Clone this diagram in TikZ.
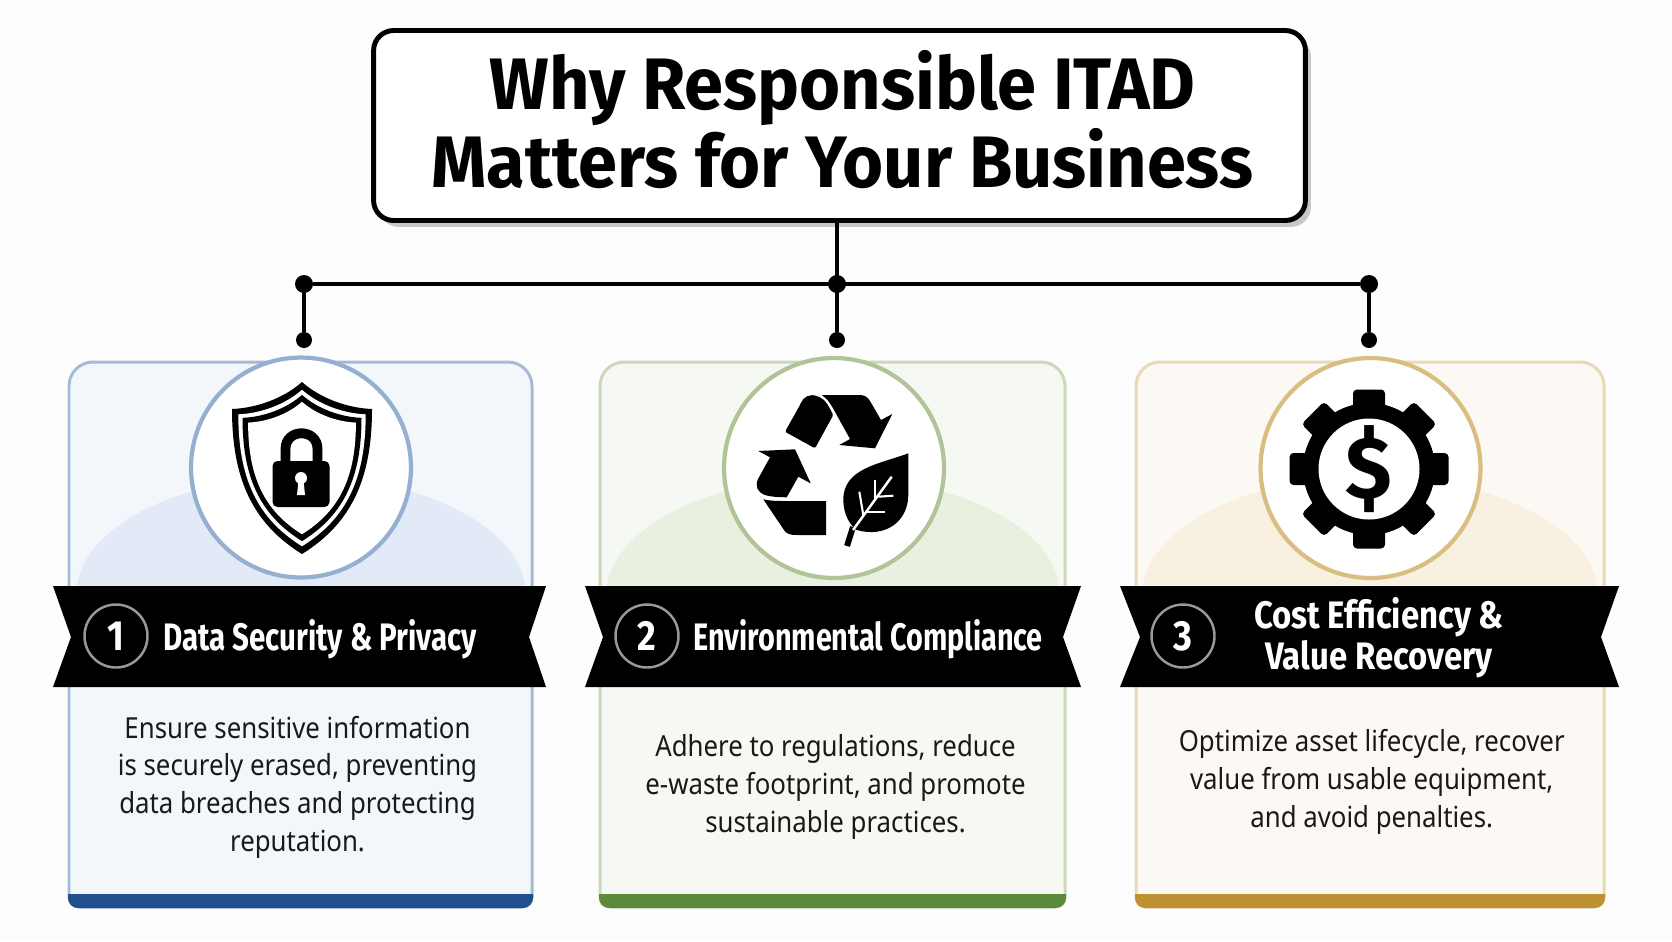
\documentclass[tikz,border=0pt]{standalone}
\usepackage{xcolor}
\usepackage{fontspec}
\usetikzlibrary{positioning,shadows}
\setmainfont{Noto Sans}
\newfontfamily\headfont[FakeStretch=.965]{Fira Sans}
\newfontfamily\bannerfont[FakeStretch=.77]{Fira Sans}
\newfontfamily\bannernarrow[FakeStretch=.752]{Fira Sans}
\newfontfamily\bannerwide[FakeStretch=.86]{Fira Sans}
\newfontfamily\bodyfont[FakeStretch=.89]{Noto Sans}
\definecolor{pageColor}{RGB}{253, 253, 253}
\definecolor{blueFill}{RGB}{243, 247, 252}
\definecolor{blueHill}{RGB}{225, 234, 246}
\definecolor{blueEdge}{RGB}{165, 186, 212}
\definecolor{blueRing}{RGB}{148, 175, 208}
\definecolor{blueBar}{RGB}{31, 79, 140}
\definecolor{greenFill}{RGB}{246, 248, 243}
\definecolor{greenHill}{RGB}{233, 240, 223}
\definecolor{greenEdge}{RGB}{203, 217, 186}
\definecolor{greenRing}{RGB}{176, 196, 151}
\definecolor{greenBar}{RGB}{91, 138, 58}
\definecolor{goldFill}{RGB}{252, 249, 244}
\definecolor{goldHill}{RGB}{248, 240, 224}
\definecolor{goldEdge}{RGB}{232, 218, 184}
\definecolor{goldRing}{RGB}{217, 190, 130}
\definecolor{goldBar}{RGB}{190, 146, 50}

\begin{document}
\begin{tikzpicture}[
		x=0.02cm,
		y=-0.02cm,
		% Define styles for nodes
		titlebox/.style={
				draw=black,
				rectangle,
				minimum width=18.64cm,
				minimum height=3.8cm,
				rounded corners=0.4cm,
				line width=2.8pt,
				fill=white,
				drop shadow={shadow xshift=0.11cm,shadow yshift=-0.13cm,fill=gray!60,opacity=0.7}
			},
		wire/.style={
				line width=2.3pt,
				draw=black
			},
		hubdot/.style={
				circle,
				fill=black,
				inner sep=0pt,
				minimum size=#1
			},
		iconring/.style={
				circle,
				draw=#1,
				line width=2.4pt,
				fill=white,
				minimum size=4.4cm
			},
		numring/.style={
				circle,
				draw=gray!80,
				line width=1.4pt,
				minimum size=1.26cm,
				inner sep=0pt,
				text=white,
				font=\bannerwide\fontsize{24}{24}\selectfont\bfseries
			},
		bannertext/.style={
				text=white,
				inner sep=0pt,
				align=center,
				font=\bannerfont\fontsize{21.8}{23.5}\selectfont\bfseries
			},
		cardtext/.style={
				inner sep=0pt,
				align=center,
				text=black!90,
				font=\bodyfont\fontsize{16.5}{21.45}\selectfont
			},
		cardedge/.style={
				line width=1.7pt
			}
	]

	\useasboundingbox (0,0) rectangle (1672,941);
	\fill[pageColor] (0,0) rectangle (1672,941);

	% Connector coordinates
	\node[hubdot=0.36cm] (hubleft) at (304,284) {};
	\node[hubdot=0.36cm] (hubmid) at (837,284) {};
	\node[hubdot=0.36cm] (hubright) at (1369,284) {};
	\node[hubdot=0.32cm] (footleft) at (304,340) {};
	\node[hubdot=0.32cm] (footmid) at (837,340) {};
	\node[hubdot=0.32cm] (footright) at (1369,340) {};

	% Title
	\node[titlebox] (title) at (839.5,125.5) {};
	\node[font=\headfont\fontsize{41.5}{44.4}\selectfont\bfseries, align=center, inner sep=0pt] (titletext) at (842.5,120) {Why Responsible ITAD\\Matters for Your Business};

	% ARROWS: Connect title to the cards
	\draw[wire] (title.south -| hubmid) -- (footmid);
	\draw[wire] (hubleft) -- (hubright);
	\draw[wire] (hubleft) -- (footleft);
	\draw[wire] (hubright) -- (footright);

	% CARD 1: Data security
	\draw[cardedge, draw=blueEdge, fill=blueFill] (69,600) [rounded corners=0.48cm] -- (69,362) -- (532,362) [rounded corners=0.2cm] -- (532,907) -- (69,907) -- cycle;
	\fill[blueHill] (77,600) -- (77,585) .. controls (86,527) and (176,477) .. (301,477) .. controls (426,477) and (516,527) .. (525,585) -- (525,600) -- cycle;
	\fill[blueBar] (68,894) -- (533,894) [rounded corners=0.2cm] -- (533,908) -- (68,908) [sharp corners] -- cycle;
	\node[iconring=blueRing] (ringone) at (301,467.5) {};

	% Shield with padlock
	\foreach \s/\c in {1/black,0.91/white,0.85/black,0.77/white}
		\fill[\c, shift={(302,468)}, scale=\s] (0,-86) .. controls (-18,-70) and (-45,-60) .. (-70,-59) .. controls (-70,10) and (-50,55) .. (0,86) .. controls (50,55) and (70,10) .. (70,-59) .. controls (45,-60) and (18,-70) .. (0,-86) -- cycle;
	\draw[line width=5.6pt, black] (285.5,465) -- (285.5,449) .. controls (285.5,428) and (317.5,428) .. (317.5,449) -- (317.5,465);
	\fill[black, rounded corners=0.1cm] (272.5,461) rectangle (329.5,507);
	\fill[white] (301,478) circle (6);
	\fill[white] (298.5,480) -- (303.5,480) -- (305,495) -- (297,495) -- cycle;

	\fill[pageColor] (60,586) -- (71,637) -- (60,687) -- (50,637) -- cycle;
	\fill[pageColor] (540,586) -- (529,637) -- (540,687) -- (550,637) -- cycle;
	\fill[black] (53,586) -- (546,586) -- (529,637) -- (546,687) -- (53,687) -- (71,637) -- cycle;
	\node[numring] (numone) at (116,636) {1};
	\node[bannertext, anchor=base west] (headone) at (163,650) {Data Security \& Privacy};
	\node[cardtext] (textone) at (297.5,787) {Ensure sensitive information\\is securely erased, preventing\\data breaches and protecting\\reputation.};

	% CARD 2: Environmental compliance
	\draw[cardedge, draw=greenEdge, fill=greenFill] (600,600) [rounded corners=0.48cm] -- (600,362) -- (1065,362) [rounded corners=0.2cm] -- (1065,907) -- (600,907) -- cycle;
	\fill[greenHill] (607,600) -- (607,585) .. controls (616,527) and (710,477) .. (834,477) .. controls (958,477) and (1050,527) .. (1059,585) -- (1059,600) -- cycle;
	\fill[greenBar] (599,894) -- (1066,894) [rounded corners=0.2cm] -- (1066,908) -- (599,908) [sharp corners] -- cycle;
	\node[iconring=greenRing] (ringtwo) at (834,468) {};

	% Recycling arrows with leaf
	\fill[black, rounded corners=0.03cm] (785,431.7) -- (815,448.3) -- (833.3,415) .. controls (829,407) and (826,400) .. (819,397) .. controls (810,393) and (803,397) .. (800,405) -- cycle;
	\fill[black] (821.7,395) -- (858,395) .. controls (864,395) and (867,396) .. (870,401) -- (881,420) -- (892.3,414) -- (875,448.3) -- (839.3,445) -- (850,439) -- (836.7,415) .. controls (832,406) and (828,399) .. (821.7,395) -- cycle;
	\fill[black] (758.3,451) -- (795,449.3) -- (810.7,483.3) -- (798.3,476.7) -- (786.7,497.3) .. controls (778,497) and (771,497) .. (765,495) .. controls (757,492) and (755,486) .. (758,479) -- (770,457.3) -- cycle;
	\fill[black] (763.3,499.3) .. controls (771,501) and (778,501) .. (786,501) -- (826,501) -- (826,535) -- (797,535) .. controls (790,535) and (786,534) .. (783.3,529) -- cycle;
	\fill[black] (908.3,453.3) .. controls (880,464) and (843,468) .. (843.3,500) .. controls (843.5,515) and (850,525) .. (856.7,530) .. controls (885,538) and (908,522) .. (908.3,495) -- cycle;
	\draw[black, line width=3.4pt] (853,527) -- (847,546);
	\draw[white, line width=1.4pt] (891.7,476.7) -- (853,530);
	\draw[white, line width=1.2pt] (859.3,491.7) -- (863.3,515);
	\draw[white, line width=1.2pt] (875,480) -- (875,500);
	\draw[white, line width=1.2pt] (893.3,495.7) -- (878.3,496.7);
	\draw[white, line width=1.2pt] (885,512.3) -- (865,512.3);

	\fill[pageColor] (592,586) -- (603,637) -- (592,687) -- (582,637) -- cycle;
	\fill[pageColor] (1074,586) -- (1063,637) -- (1074,687) -- (1084,637) -- cycle;
	\fill[black] (585,586) -- (1081,586) -- (1063,637) -- (1081,687) -- (585,687) -- (603,637) -- cycle;
	\node[numring] (numtwo) at (647,636) {2};
	\node[bannertext, anchor=base west, font=\bannernarrow\fontsize{21.8}{23.5}\selectfont\bfseries] (headtwo) at (693,650) {Environmental Compliance};
	\node[cardtext] (texttwo) at (835.5,787) {Adhere to regulations, reduce\\e-waste footprint, and promote\\sustainable practices.};

	% CARD 3: Cost efficiency
	\draw[cardedge, draw=goldEdge, fill=goldFill] (1136,600) [rounded corners=0.48cm] -- (1136,362) -- (1604,362) [rounded corners=0.2cm] -- (1604,907) -- (1136,907) -- cycle;
	\fill[goldHill] (1143,600) -- (1143,585) .. controls (1152,527) and (1245,477) .. (1370,477) .. controls (1495,477) and (1588,527) .. (1597,585) -- (1597,600) -- cycle;
	\fill[goldBar] (1135,894) -- (1605,894) [rounded corners=0.2cm] -- (1605,908) -- (1135,908) [sharp corners] -- cycle;
	\node[iconring=goldRing] (ringthree) at (1370.5,468) {};

	% Gear with dollar sign
	\foreach \a in {0,45,...,315}
		\fill[black, shift={(1369,469)}, rotate=\a, rounded corners=0.08cm] (-16,-79.5) rectangle (16,0);
	\fill[black] (1369,469) circle (66);
	\fill[white] (1369,469) circle (50.5);
	\node[inner sep=0pt, font=\headfont\fontsize{50}{50}\selectfont\bfseries] (dollar) at (1369,469) {\$};

	\fill[pageColor] (1130,586) -- (1140,637) -- (1130,687) -- (1117,637) -- cycle;
	\fill[pageColor] (1610,586) -- (1601,637) -- (1610,687) -- (1622,637) -- cycle;
	\fill[black] (1120,586) -- (1619,586) -- (1601,637) -- (1619,687) -- (1120,687) -- (1140,637) -- cycle;
	\node[numring] (numthree) at (1183,636) {3};
	\node[bannertext, font=\bannerwide\fontsize{21.8}{23.5}\selectfont\bfseries] (headthree) at (1379,638) {Cost Efficiency \&\\Value Recovery};
	\node[cardtext] (textthree) at (1371.7,782) {Optimize asset lifecycle, recover\\value from usable equipment,\\and avoid penalties.};

\end{tikzpicture}
\end{document}
